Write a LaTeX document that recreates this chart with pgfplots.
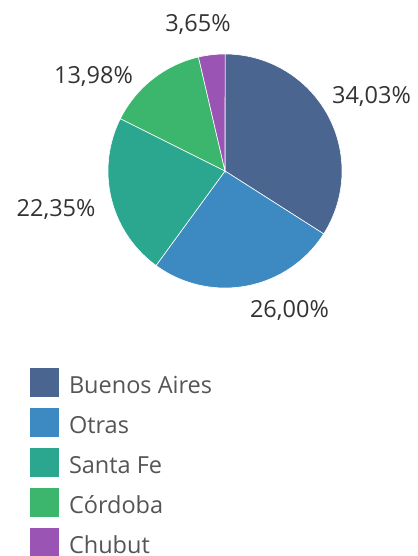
\documentclass[border=0pt]{standalone}
\usepackage{pgfplots}
\pgfplotsset{compat=1.18}
\usepackage{fontspec}
\setmainfont{Open Sans}
\definecolor{cBA}{HTML}{4A6590}
\definecolor{cOT}{HTML}{3D8AC2}
\definecolor{cSF}{HTML}{2BA78F}
\definecolor{cCO}{HTML}{3CB66C}
\definecolor{cCH}{HTML}{9A55B4}
\definecolor{labc}{HTML}{333333}
\definecolor{legc}{HTML}{555555}
% shares (percent), clockwise from 12 o'clock
\def\pBA{34.03}\def\pOT{26.00}\def\pSF{22.35}\def\pCO{13.98}\def\pCH{3.65}
\pgfmathsetmacro\aA{90}
\pgfmathsetmacro\aB{\aA-3.6*\pBA}
\pgfmathsetmacro\aC{\aB-3.6*\pOT}
\pgfmathsetmacro\aD{\aC-3.6*\pSF}
\pgfmathsetmacro\aE{\aD-3.6*\pCO}
\pgfmathsetmacro\aF{\aE-3.6*\pCH}
\begin{document}
\begin{tikzpicture}
\useasboundingbox (0,0) rectangle (418bp,556bp);
\begin{axis}[
  at={(225bp,385bp)}, anchor=origin,
  x=117bp, y=117bp,
  xmin=-1.92308, xmax=1.64957, ymin=-3.29060, ymax=1.46154,
  hide axis, clip=false,
  legend style={at={(axis description cs:0.0718,0.3381)}, anchor=north west,
    draw=none, fill=none, inner sep=0pt, outer sep=0pt,
    font=\fontsize{23.5bp}{27bp}\selectfont, text=legc,
    nodes={inner sep=0pt, text height=25bp, text depth=3bp},
    row sep=11bp, column sep=10bp},
  legend cell align=left,
  legend image code/.code={\path[#1,draw=none] (0bp,-14.5bp) rectangle (29bp,14.5bp);},
]
\addplot[fill=cBA, draw=white, line width=0.6bp, domain=\aB:\aA, samples=80] ({cos(x)},{sin(x)}) -- (axis cs:0,0) -- cycle;
\addlegendentry{Buenos Aires}
\addplot[fill=cOT, draw=white, line width=0.6bp, domain=\aC:\aB, samples=80] ({cos(x)},{sin(x)}) -- (axis cs:0,0) -- cycle;
\addlegendentry{Otras}
\addplot[fill=cSF, draw=white, line width=0.6bp, domain=\aD:\aC, samples=80] ({cos(x)},{sin(x)}) -- (axis cs:0,0) -- cycle;
\addlegendentry{Santa Fe}
\addplot[fill=cCO, draw=white, line width=0.6bp, domain=\aE:\aD, samples=60] ({cos(x)},{sin(x)}) -- (axis cs:0,0) -- cycle;
\addlegendentry{Córdoba}
\addplot[fill=cCH, draw=white, line width=0.6bp, domain=\aF:\aE, samples=20] ({cos(x)},{sin(x)}) -- (axis cs:0,0) -- cycle;
\addlegendentry{Chubut}
\addplot[forget plot, only marks, mark=none, nodes near coords, point meta=explicit symbolic,
  nodes near coords style={anchor=base, inner sep=0pt, text=labc, font=\fontsize{23.5bp}{27bp}\selectfont}]
  table[meta=label] {
x y label
1.252 0.581 34,03\%
0.551 -1.248 26,00\%
-1.444 -0.393 22,35\%
-1.124 0.744 13,98\%
-0.231 1.188 3,65\%
};
\end{axis}
\end{tikzpicture}
\end{document}
